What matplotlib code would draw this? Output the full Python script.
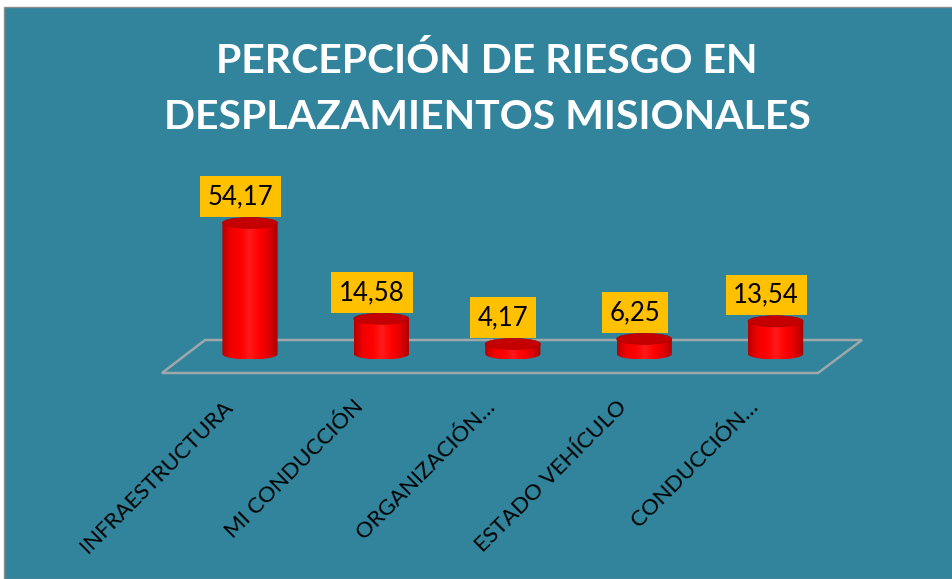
import numpy as np
import matplotlib
matplotlib.use('Agg')
from matplotlib import pyplot as plt
from matplotlib.patches import Ellipse, Polygon, Rectangle, PathPatch
from matplotlib.path import Path
from matplotlib.colors import LinearSegmentedColormap

plt.rcParams['font.family'] = ['Lato', 'DejaVu Sans']

# data
categorias = ['INFRAESTRUCTURA', 'MI CONDUCCIÓN', 'ORGANIZACIÓN…', 'ESTADO VEHÍCULO', 'CONDUCCIÓN…']
valores = [54.17, 14.58, 4.17, 6.25, 13.54]
titulo = ['PERCEPCIÓN DE RIESGO EN', 'DESPLAZAMIENTOS MISIONALES']

teal = '#31849B'
W, H = 952, 579
fig = plt.figure(figsize=(W / 100, H / 100), dpi=100)
fig.patch.set_facecolor('white')
fig.patches.append(Rectangle((4 / W, 0), 1, (H - 7) / H, transform=fig.transFigure,
                             fc=teal, ec='#8c8c8c', lw=1, zorder=-5))

ax = fig.add_axes([0, 0, 1, 1])
ax.set_facecolor('none')
ax.axis('off')

# pixel -> data mapping (x: category index, y: value)
px_x, px_y = 131.4, 2.42
x0_px, y0_px = 250, 354
xlim = (-x0_px / px_x, (W - x0_px) / px_x)
ylim = (-(H - y0_px) / px_y, y0_px / px_y)

# floor of the 3d plot
fb, ff = 14 / px_y, -19 / px_y
floor = Polygon([(-0.342, fb), (4.658, fb), (4.323, ff), (-0.670, ff)],
                closed=True, fc='none', ec='#9ea8ab', lw=1.8, zorder=1)
ax.add_patch(floor)

cmap = LinearSegmentedColormap.from_list('cyl', ['#b80000', '#f20000', '#ff0000', '#ff1a1a', '#ff0000', '#e00000', '#a80000'])
grad = np.linspace(0, 1, 256).reshape(1, -1)

w = 0.42
eh = 11 / px_y
for i, v in enumerate(valores):
    n = 40
    t = np.linspace(np.pi, 2 * np.pi, n)
    bottom = np.column_stack([i + w / 2 * np.cos(t), eh / 2 * np.sin(t)])
    top = np.array([[i + w / 2, v], [i - w / 2, v]])
    verts = np.vstack([bottom, top, bottom[:1]])
    body = PathPatch(Path(verts, closed=True), fc='none', ec='none')
    ax.add_patch(body)
    im = ax.imshow(grad, cmap=cmap, extent=[i - w / 2, i + w / 2, -eh / 2, v],
                   aspect='auto', zorder=2)
    im.set_clip_path(body)
    ax.add_patch(Ellipse((i, v), w, eh, fc='#c40000', ec='#b00000', lw=0.5, zorder=3))
    ax.annotate(f'{v:.2f}'.replace('.', ','), xy=(i, v), xytext=(-6.8, 19),
                textcoords='offset points', ha='center', va='center', fontsize=18.5,
                color='black', zorder=5,
                bbox=dict(boxstyle='square,pad=0.3', fc='#FFC000', ec='none'))
    ax.annotate(categorias[i], xy=(i, ff), xytext=(-15, -22), textcoords='offset points',
                rotation=45, rotation_mode='anchor', ha='right', va='center',
                fontsize=16, color='black')

ax.set_xlim(*xlim)
ax.set_ylim(*ylim)

for k, linea in enumerate(titulo):
    fig.text(487 / W, 1 - (61 + 56 * k) / H, linea, ha='center', va='center', fontsize=29.5,
             fontweight='bold', color='white')

fig.savefig('out.png', dpi=100, facecolor=fig.get_facecolor())
